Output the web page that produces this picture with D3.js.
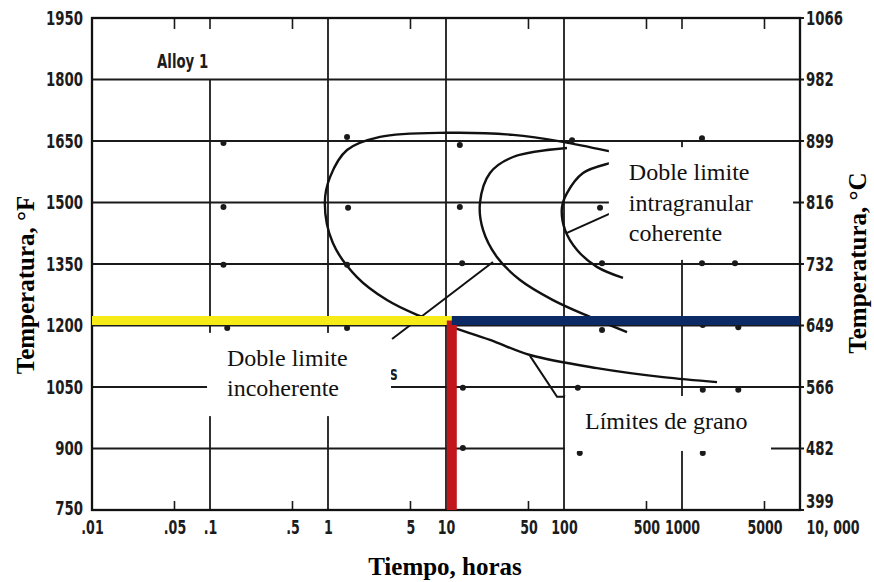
<!DOCTYPE html>
<html><head><meta charset="utf-8">
<script src="https://cdn.jsdelivr.net/npm/d3@7"></script>
<style>
body{margin:0;background:#fff;}
svg{display:block;}
.scan{font-family:"Liberation Sans Narrow","Arial Narrow","DejaVu Sans Condensed",sans-serif;font-weight:bold;fill:#1c1c1c;}
</style></head>
<body>
<svg id="chart" width="874" height="582"></svg>
<script>
// ---- data ----
const timeTicks = [0.01,0.05,0.1,0.5,1,5,10,50,100,500,1000,5000,10000];
const timeTickLabels = [".01",".05",".1",".5","1","5","10","50","100","500","1000","5000","10, 000"];
const minorTimeTicks = [0.05,0.5,5,50,500,5000];
const tempTicksF = [1950,1800,1650,1500,1350,1200,1050,900,750];
const tempTickLabelsC = ["1066","982","899","816","732","649","566","482","399"];
const vGridTimes = [0.1,1,10,100,1000];
const vGridTops = [1800,1950,1950,1950,1650];

// curves [time (h), temperature (°F)]
const outerCurve = [[440,1608],[260,1623],[98,1648],[37,1665],[10.2,1670],[2.76,1660],[1.45,1628],[1.04,1562],[0.94,1499],[1.10,1401],[1.76,1318],[3.16,1262],[5.68,1226],[11.2,1196],[23.6,1165],[51.5,1128],[190,1096],[690,1074],[1980,1062]];
const middleCurve = [[106,1633],[37,1611],[23.6,1572],[19.4,1499],[20.6,1433],[27,1367],[42.4,1311],[80.7,1262],[166,1221],[342,1184]];
const innerCurve = [[329,1604],[245,1596],[145,1572],[106,1523],[96,1487],[102,1433],[129,1384],[190,1343],[316,1316]];
const leaderA = [[25,1355],[3.49,1167]];
const leaderB = [[106,1426],[440,1506]];
const leaderC = [[51.5,1126],[87.3,1026],[104,1026]];

const dotTimes = [0.13,1.45,13.1,117,1477, 0.13,1.48,13.1,202, 0.13,1.45,13.7,210,1477,2812, 0.14,1.45,13.9,210,1500,3000, 13.9,131,1500,3000, 13.9,136,1500];
const dotTemps = [1645,1660,1640,1652,1657, 1489,1487,1489,1487, 1348,1348,1352,1352,1352,1352, 1194,1194,1206,1189,1201,1196, 1048,1048,1043,1043, 901,889,889];

const boxNames = ["coherent","incoherent","grain"];
const boxTimes = [[240,8730],[0.0944,3.42],[102,5680]];
const boxTemps = [[1360,1635],[979,1182],[894,1028]];
const boxLines = [["Doble limite","intragranular","coherente"],["Doble limite","incoherente"],["Límites de grano"]];

const cutTime = 11.2;
const cutTemp = 1212;

// ---- layout ----
const W = 874, H = 582;
const m = {left:92, right:74, top:18, bottom:72};
const SX = 0.74; // horizontal condensing of the scanned label font
const svg = d3.select("#chart");
const x = d3.scaleLog().domain([0.01,10000]).range([m.left, W - m.right]);
const y = d3.scaleLinear().domain([750,1950]).range([H - m.bottom, m.top]);
const toC = f => (f - 32) * 5 / 9;
const yC = d3.scaleLinear().domain([toC(750), toC(1950)]).range([H - m.bottom, m.top]);

const g = svg.append("g");

// horizontal grid
g.selectAll("line.hg").data(tempTicksF).join("line")
  .attr("x1", x(0.01)).attr("x2", x(10000) + 4)
  .attr("y1", d => y(d)).attr("y2", d => y(d))
  .attr("stroke", "#1a1a1a").attr("stroke-width", 1.8);

// vertical grid
g.selectAll("line.vg").data(vGridTimes).join("line")
  .attr("x1", d => x(d)).attr("x2", d => x(d))
  .attr("y1", (d,i) => y(vGridTops[i])).attr("y2", y(750))
  .attr("stroke", "#1a1a1a").attr("stroke-width", 1.8);

// minor ticks top & bottom
g.selectAll("line.tt").data(minorTimeTicks.concat([0.1,1000])).join("line")
  .attr("x1", d => x(d)).attr("x2", d => x(d))
  .attr("y1", y(1950)).attr("y2", y(1950) + 11)
  .attr("stroke", "#1a1a1a").attr("stroke-width", 1.6);
g.selectAll("line.bt").data(minorTimeTicks).join("line")
  .attr("x1", d => x(d)).attr("x2", d => x(d))
  .attr("y1", y(750)).attr("y2", y(750) - 9)
  .attr("stroke", "#1a1a1a").attr("stroke-width", 1.6);

// frame
g.append("rect")
  .attr("x", x(0.01)).attr("y", y(1950))
  .attr("width", x(10000) - x(0.01)).attr("height", y(750) - y(1950))
  .attr("fill", "none").attr("stroke", "#111").attr("stroke-width", 2.3);

// axes labels
const axL = svg.append("g").attr("transform", `translate(${m.left},0)`)
  .call(d3.axisLeft(y).tickValues(tempTicksF).tickSize(0).tickPadding(12).tickFormat(d3.format("d")));
const axR = svg.append("g").attr("transform", `translate(${W - m.right},0)`)
  .call(d3.axisRight(yC).tickValues(tempTicksF.map(toC)).tickSize(0).tickPadding(8).tickFormat((d,i) => tempTickLabelsC[i]));
const axB = svg.append("g").attr("transform", `translate(0,${H - m.bottom})`)
  .call(d3.axisBottom(x).tickValues(timeTicks).tickSize(0).tickPadding(11).tickFormat((d,i) => timeTickLabels[i]));
[axL, axR].forEach(a => {
  a.select(".domain").remove();
  a.selectAll("text").attr("class", "scan").attr("font-size", 20);
});
axB.select(".domain").remove();
axB.selectAll("text").attr("class", "scan").attr("font-size", 19);
axB.selectAll("text").filter(d => d === 10000).attr("text-anchor", "start").attr("dx", 8);
axR.selectAll("text").filter((d,i) => i === tempTicksF.length - 1).attr("dy", "-0.15em");
axL.selectAll("text").filter((d,i) => i === tempTicksF.length - 1).attr("dy", "0.2em");
[axL, axR, axB].forEach(a => a.selectAll("text").attr("transform", `scale(${SX},1)`));

// alloy label and scan remnant
svg.append("text").attr("class", "scan").attr("font-size", 20)
  .attr("transform", `translate(${x(0.0356)},${y(1828)}) scale(${SX},1)`).text("Alloy 1");
svg.append("text").attr("class", "scan").attr("font-size", 19)
  .attr("transform", `translate(${x(3.35)},${y(1067)}) scale(${SX},1)`).text("s");

// curves
const line = d3.line().x(d => x(d[0])).y(d => y(d[1])).curve(d3.curveCatmullRom.alpha(0.5));
const straight = d3.line().x(d => x(d[0])).y(d => y(d[1]));
[outerCurve, middleCurve, innerCurve].forEach(c => {
  g.append("path").attr("d", line(c)).attr("fill", "none").attr("stroke", "#111").attr("stroke-width", 2.4);
});
[leaderA, leaderB, leaderC].forEach(c => {
  g.append("path").attr("d", straight(c)).attr("fill", "none").attr("stroke", "#111").attr("stroke-width", 2);
});

// dots
g.selectAll("circle.dot").data(dotTimes).join("circle")
  .attr("cx", d => x(d)).attr("cy", (d,i) => y(dotTemps[i]))
  .attr("r", 3).attr("fill", "#1a1a1a");

// annotation boxes
boxNames.forEach((n, i) => {
  const bx = x(boxTimes[i][0]), by = y(boxTemps[i][1]);
  svg.append("rect").attr("x", bx).attr("y", by)
    .attr("width", x(boxTimes[i][1]) - bx).attr("height", y(boxTemps[i][0]) - by)
    .attr("fill", "#fff");
  const t = svg.append("text").attr("font-family", "'Liberation Serif','Times New Roman',serif")
    .attr("font-size", 24).attr("fill", "#111");
  boxLines[i].forEach((s, k) => {
    t.append("tspan").attr("x", bx + 20).attr("y", by + 33 + k * 30.5).text(s);
  });
});

// highlighted lines
svg.append("line").attr("x1", x(0.01)).attr("x2", x(cutTime))
  .attr("y1", y(cutTemp)).attr("y2", y(cutTemp))
  .attr("stroke", "#f6eb16").attr("stroke-width", 9);
svg.append("line").attr("x1", x(cutTime)).attr("x2", x(cutTime))
  .attr("y1", y(cutTemp)).attr("y2", y(750))
  .attr("stroke", "#c1161c").attr("stroke-width", 10);
svg.append("line").attr("x1", x(cutTime)).attr("x2", x(10000))
  .attr("y1", y(cutTemp)).attr("y2", y(cutTemp))
  .attr("stroke", "#0c2b66").attr("stroke-width", 9);

// titles
const serifBold = sel => sel.attr("font-family", "'Liberation Serif','Times New Roman',serif")
  .attr("font-weight", "bold").attr("font-size", 25).attr("fill", "#000").attr("text-anchor", "middle");
svg.append("text").call(serifBold).attr("transform", "translate(34,285) rotate(-90)").text("Temperatura, °F");
svg.append("text").call(serifBold).attr("transform", "translate(866,263) rotate(-90)").text("Temperatura, °C");
svg.append("text").call(serifBold).attr("x", 445).attr("y", 575).text("Tiempo, horas");
</script>
</body></html>
